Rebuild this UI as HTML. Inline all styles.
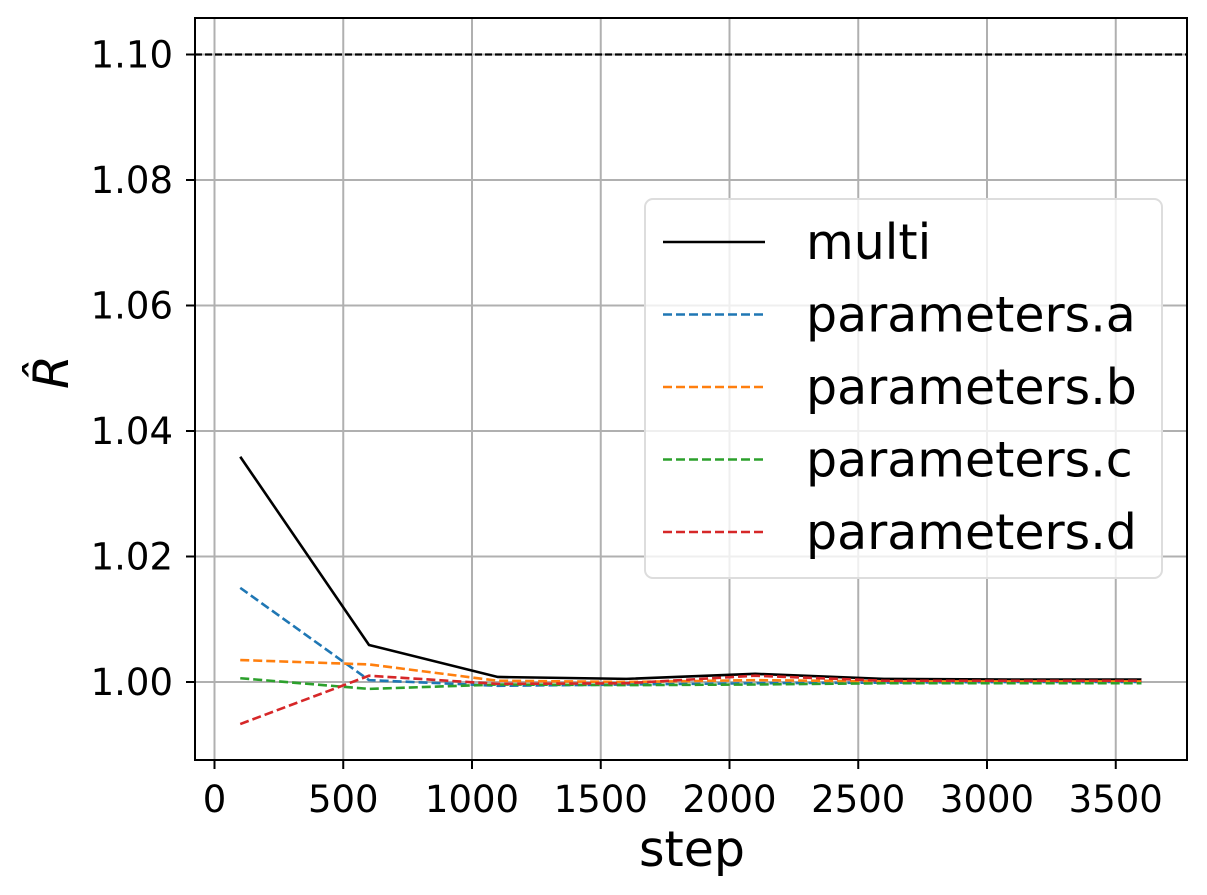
<!DOCTYPE html>
<html><head><meta charset="utf-8"><style>body{margin:0;background:#fff}svg{display:block;font-family:"DejaVu Sans","Liberation Sans",sans-serif}</style></head>
<body>
<svg id="chart" width="1207" height="895" xmlns="http://www.w3.org/2000/svg"></svg>
<script>
const steps=[100,600,1100,1600,2100,2600,3100,3600];
const multi=[1.0359,1.0059,1.0008,1.0005,1.0013,1.0005,1.0004,1.0004];
const pa=[1.015,1.0003,0.9994,0.9996,0.9998,0.9999,1.0,1.0];
const pb=[1.0035,1.0028,1.0002,1.0,1.0003,1.0001,1.0001,1.0001];
const pc=[1.0006,0.9989,0.9996,0.9995,0.9996,0.9998,0.9998,0.9998];
const pd=[0.9933,1.001,0.9997,0.9998,1.001,1.0002,1.0002,1.0002];
const xTicks=[0,500,1000,1500,2000,2500,3000,3500];
const yTicks=[1.00,1.02,1.04,1.06,1.08,1.10];
const threshold=1.10;
const series=[{n:'multi',d:multi,c:'#000',dash:''},{n:'parameters.a',d:pa,c:'#1f77b4',dash:'9,4'},{n:'parameters.b',d:pb,c:'#ff7f0e',dash:'9,4'},{n:'parameters.c',d:pc,c:'#2ca02c',dash:'9,4'},{n:'parameters.d',d:pd,c:'#d62728',dash:'9,4'}];
const L=195,R=1187,T=18,B=760;
const X=v=>214.5+(v)*0.2575;
const Y=v=>682-(v-1)*6275;
const s=document.getElementById('chart');const NS='http://www.w3.org/2000/svg';
function mk(t,a,p){const e=document.createElementNS(NS,t);for(const k in a)e.setAttribute(k,a[k]);(p||s).appendChild(e);return e;}
const grid=mk('g',{});
xTicks.forEach(v=>{const x=X(v);mk('line',{x1:x,x2:x,y1:T,y2:B,stroke:'#b0b0b0','stroke-width':2},grid);
mk('line',{x1:x,x2:x,y1:B,y2:B+9,stroke:'#000','stroke-width':2});
const t=mk('text',{x:x,y:812,'font-size':37,'text-anchor':'middle'});t.textContent=v;
});
yTicks.forEach(v=>{const y=Y(v);mk('line',{x1:L,x2:R,y1:y,y2:y,stroke:'#b0b0b0','stroke-width':2},grid);
mk('line',{x1:L-9,x2:L,y1:y,y2:y,stroke:'#000','stroke-width':2});
const t=mk('text',{x:173,y:y+13,'font-size':37,'text-anchor':'end'});t.textContent=v.toFixed(2);
});
const th=mk('line',{x1:L,x2:R,y1:Y(threshold),y2:Y(threshold),stroke:'#000','stroke-width':2.2,'stroke-dasharray':'7,3'});

series.forEach(se=>{const p=mk('polyline',{points:steps.map((st,i)=>X(st)+','+Y(se.d[i])).join(' '),fill:'none',stroke:se.c,'stroke-width':2.6,'stroke-dasharray':se.dash});
});
const ax=mk('rect',{x:L,y:T,width:R-L,height:B-T,fill:'none',stroke:'#000','stroke-width':2});

const lg=mk('g',{});
mk('rect',{x:645,y:199,width:517,height:379,rx:8,fill:'#fff','fill-opacity':0.8,stroke:'#ddd','stroke-width':2},lg);
series.forEach((se,i)=>{const y=242+i*72.5;mk('line',{x1:663,x2:765,y1:y,y2:y,stroke:se.c,'stroke-width':2.6,'stroke-dasharray':se.dash},lg);
const t=mk('text',{x:806,y:y+17,'font-size':49},lg);t.textContent=se.n;
});
const xt=mk('text',{x:692,y:866,'font-size':49,'text-anchor':'middle'});xt.textContent='step';

const yt=mk('text',{x:0,y:0,'font-size':49,'text-anchor':'middle','font-style':'italic',transform:'translate(68,372) rotate(-90)'});yt.textContent='R̂';

</script>
</body></html>
